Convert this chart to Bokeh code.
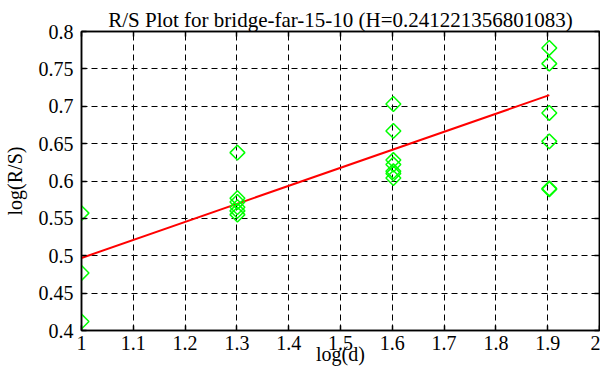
import numpy as np
from bokeh.plotting import figure
from bokeh.models import LinearAxis, FixedTicker, Range1d, ColumnDataSource
from bokeh.embed import file_html
from bokeh.resources import INLINE

# ---- data ----
log_d_groups = [1.0, 1.30103, 1.60206, 1.90309]
log_rs_at_d10 = [0.557, 0.477, 0.412]
log_rs_at_d20 = [0.638, 0.577, 0.572, 0.565, 0.560, 0.555]
log_rs_at_d40 = [0.703, 0.667, 0.628, 0.622, 0.613, 0.610, 0.604]
log_rs_at_d80 = [0.778, 0.757, 0.691, 0.653, 0.590, 0.589]

hurst_H = 0.241221356801083
fit_intercept = 0.2558

x_ticks = [1.0, 1.1, 1.2, 1.3, 1.4, 1.5, 1.6, 1.7, 1.8, 1.9, 2.0]
x_tick_labels = ["1", "1.1", "1.2", "1.3", "1.4", "1.5", "1.6", "1.7", "1.8", "1.9", "2"]
y_ticks = [0.4, 0.45, 0.5, 0.55, 0.6, 0.65, 0.7, 0.75, 0.8]
y_tick_labels = ["0.4", "0.45", "0.5", "0.55", "0.6", "0.65", "0.7", "0.75", "0.8"]

title_text = "R/S Plot for bridge-far-15-10 (H=0.241221356801083)"
x_label = "log(d)"
y_label = "log(R/S)"

# ---- build sources ----
groups = [log_rs_at_d10, log_rs_at_d20, log_rs_at_d40, log_rs_at_d80]
pts_x, pts_y = [], []
for gx, vals in zip(log_d_groups, groups):
    pts_x += [gx] * len(vals)
    pts_y += list(vals)
pts = ColumnDataSource(dict(x=pts_x, y=pts_y))

fit_x = [log_d_groups[0], log_d_groups[-1]]
fit_y = [fit_intercept + hurst_H * v for v in fit_x]
fit = ColumnDataSource(dict(x=fit_x, y=fit_y))

FONT = "Liberation Serif"
FS = "20px"

p = figure(width=600, height=371, output_backend="svg", toolbar_location=None,
           x_range=Range1d(1, 2), y_range=Range1d(0.4, 0.8),
           min_border_left=81, min_border_right=1, min_border_top=31, min_border_bottom=41,
           x_axis_label=x_label, y_axis_label=y_label)
p.title.text = title_text
p.title.align = "center"
p.title.text_font = FONT
p.title.text_font_size = "21px"
p.title.text_font_style = "normal"
p.title.text_color = "black"
p.title.standoff = 0

top_axis = LinearAxis()
right_axis = LinearAxis()
p.add_layout(top_axis, "above")
p.add_layout(right_axis, "right")

xticker = FixedTicker(ticks=x_ticks)
yticker = FixedTicker(ticks=y_ticks)

bottom_axis = p.below[0]
left_axis = p.left[0]

for ax in (bottom_axis, top_axis):
    ax.ticker = xticker
for ax in (left_axis, right_axis):
    ax.ticker = yticker
bottom_axis.major_label_overrides = {t: l for t, l in zip(x_ticks, x_tick_labels)}
left_axis.major_label_overrides = {t: l for t, l in zip(y_ticks, y_tick_labels)}

for ax in (bottom_axis, top_axis, left_axis, right_axis):
    ax.major_tick_in = 5
    ax.major_tick_out = 0
    ax.minor_tick_line_color = None
    ax.axis_line_color = "black"
    ax.axis_line_width = 1.5
    ax.major_tick_line_color = "black"
    ax.major_tick_line_width = 1.5
    ax.major_label_text_font = FONT
    ax.major_label_text_font_size = FS
    ax.major_label_text_color = "black"
    ax.axis_label_text_font = FONT
    ax.axis_label_text_font_size = FS
    ax.axis_label_text_font_style = "normal"
    ax.axis_label_text_color = "black"

for ax in (top_axis, right_axis):
    ax.major_label_text_color = None
    ax.major_label_text_font_size = "1px"
    ax.major_label_standoff = 0
    ax.axis_label_standoff = 0

bottom_axis.major_label_standoff = 5
bottom_axis.axis_label_standoff = -10
left_axis.major_label_standoff = 8
left_axis.axis_label_standoff = 10

p.xgrid.ticker = xticker
p.ygrid.ticker = yticker
for g in (p.xgrid, p.ygrid):
    g.grid_line_color = "black"
    g.grid_line_alpha = 1
    g.grid_line_width = 1
    g.grid_line_dash = "6 4"

p.outline_line_color = "black"
p.outline_line_width = 1.5
p.background_fill_color = "white"
p.border_fill_color = "white"

p.line("x", "y", source=fit, line_color="red", line_width=2)
p.scatter("x", "y", source=pts, marker="square", angle=np.pi / 4, size=10.5,
          fill_color=None, line_color="#00ff00", line_width=1.5)

open("out.html", "w").write(file_html(p, INLINE))
